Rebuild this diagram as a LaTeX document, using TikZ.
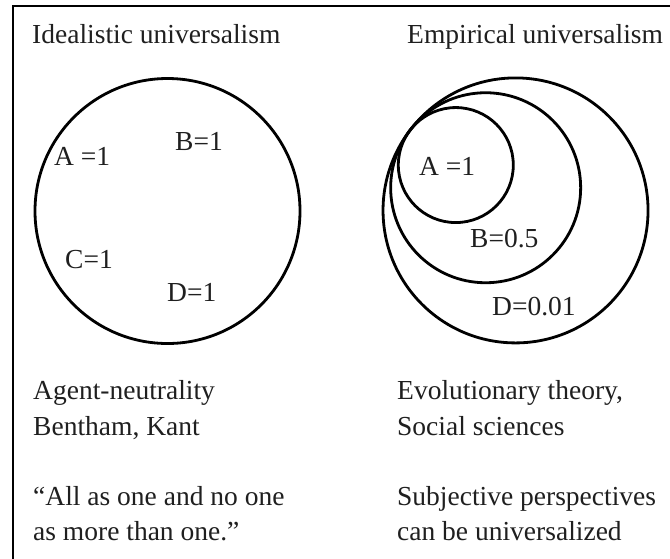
\documentclass[tikz,border=0pt]{standalone}
\usepackage{fontspec}
\setmainfont{Liberation Serif}
\usetikzlibrary{calc}

\begin{document}
\begin{tikzpicture}[x=1pt, y=-1pt,
  txt/.style={anchor=base west, inner sep=0pt, font=\fontsize{27.5}{33}\selectfont, text=black!88},
  ring/.style={line width=2.8pt}]
  \useasboundingbox (0,0) rectangle (670,558);
  % frame, cut by the page on the right and at the bottom
  \draw[line width=2pt] (12.5,580) -- (12.5,6) -- (690,6);
  % titles
  \node[txt] (tleft)  at (32,43)  {Idealistic universalism};
  \node[txt] (tright) at (407,43) {Empirical universalism};
  % idealistic: one circle, equal weights
  \draw[ring] (167.5,211) circle (132.5pt);
  \node[txt] (la) at (54,165)  {A =1};
  \node[txt] (lb) at (175,150) {B=1};
  \node[txt] (lc) at (65,268)  {C=1};
  \node[txt] (ld) at (167,301) {D=1};
  % empirical: nested circles touching at one point
  \coordinate (tp) at (410,130.3);
  \foreach \r in {132.5, 95, 57.5}
    \draw[ring] ($(tp)+(37.2:\r)$) circle (\r pt);
  \node[txt] (ra) at (419,175) {A =1};
  \node[txt] (rb) at (470,247) {B=0.5};
  \node[txt] (rd) at (492,315) {D=0.01};
  % notes below
  \node[txt] (n1) at (33,399)  {Agent-neutrality};
  \node[txt] (n2) at (33,435)  {Bentham, Kant};
  \node[txt] (n3) at (33,505)  {``All as one and no one};
  \node[txt] (n4) at (33,540)  {as more than one.''};
  \node[txt] (m1) at (397,399) {Evolutionary theory,};
  \node[txt] (m2) at (397,435) {Social sciences};
  \node[txt] (m3) at (397,505) {Subjective perspectives};
  \node[txt] (m4) at (397,540) {can be universalized};
\end{tikzpicture}
\end{document}
